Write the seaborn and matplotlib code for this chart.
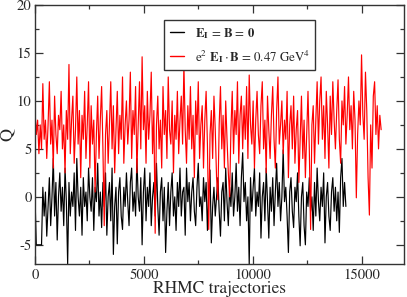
import numpy as np
import pandas as pd
import matplotlib
matplotlib.use("Agg")
import matplotlib.pyplot as plt
import seaborn as sns
from matplotlib.ticker import MultipleLocator

# trajectory spacing between recorded measurements
STEP = 60

red_q = [
    9.0, 6.5, 8.0, 4.5, 7.5, 5.0, 11.8, 6.0, 8.0, 4.0,
    7.5, 12.0, 5.5, 8.0, 3.0, 10.5, 6.5, 4.5, 8.5, 7.0,
    11.0, 5.0, 7.5, 2.5, 9.0, 6.0, 13.8, 4.5, 8.0, 10.5,
    3.5, 7.0, 12.5, 5.5, 9.0, 2.0, 8.5, 6.0, 11.0, 4.0,
    7.5, 12.0, 3.0, 9.5, 5.5, 8.0, 0.5, 6.5, 10.5, 4.0,
    8.0, 11.5, 5.0, -3.0, 6.5, 9.0, 3.5, 7.5, 12.0, 5.0,
    9.5, 2.5, 7.0, 11.0, 4.5, 8.5, 6.0, 12.5, 3.5, 7.5,
    10.0, 5.5, 8.0, 13.0, 4.0, 9.0, 6.5, 11.5, 2.5, 7.5,
    12.0, 5.0, 14.6, 7.0, 9.5, 3.5, 11.0, 6.0, 8.5, 13.0,
    4.5, 9.0, -3.8, 7.5, 10.5, 5.0, 8.0, 3.0, 11.5, 6.5,
    9.0, 4.0, 12.5, 7.0, 5.5, 10.0, 2.5, 8.5, 6.0, 11.0,
    4.5, 8.0, 10.5, 5.5, 13.8, 7.0, 3.5, 9.5, 6.0, 11.5,
    5.0, 8.5, 2.0, 10.0, 6.5, 12.0, 4.0, 7.5, 9.5, 3.0,
    8.0, 11.0, 5.5, -3.4, 6.5, 9.0, 4.0, 10.5, 7.0, 2.0,
    -0.3, 7.5, 11.5, 5.0, 8.5, 3.0, 10.0, 6.0, 2.5, 0.0,
    7.0, 11.0, 4.5, 9.0, 6.5, 12.0, 3.5, 8.5, 10.5, 5.0,
    9.5, 6.0, 11.5, 4.0, 12.7, 7.5, 5.5, 10.0, 3.0, 8.0,
    11.0, 6.5, 4.5, 9.5, 12.0, 5.0, 8.0, 2.5, 10.5, 7.0,
    4.0, 8.5, 11.5, 6.0, 3.0, 9.0, 12.5, 5.5, 7.5, 10.0,
    4.5, 8.0, 6.0, 11.0, 2.0, 7.5, 9.5, 5.0, 10.5, 3.5,
    7.0, 9.0, 1.5, 6.0, 10.5, 4.0, 8.0, 2.0, 6.5, 11.0,
    5.0, -3.4, 7.5, 9.5, 3.5, 8.0, 12.0, 5.5, 10.0, 12.5,
    6.0, 9.5, 4.0, 11.0, 7.5, 3.0, 10.5, 6.5, 12.0, 8.0,
    5.0, 9.0, 12.2, 6.0, 3.5, 10.0, 7.5, 11.5, 5.5, 8.5,
    12.5, 7.0, 9.5, 5.0, 11.0, 8.0, -0.1, 6.5, 10.0, 7.5,
    14.8, 8.5, 6.0, 13.0, 9.0, 2.0, -1.9, 7.5, 3.0, 10.5,
    12.0, 6.5, 9.5, 5.0, 8.5, 7.0,
]

black_q = [
    0.0, -5.0, -5.0, -5.0, -5.0, -5.0, 1.0, -2.0, 0.5, -4.1,
    -1.0, 2.0, -3.0, 0.0, 4.0, -2.0, 1.5, -4.5, 0.0, 2.5,
    -1.5, 1.0, -3.0, 3.0, -0.5, -7.0, 1.5, -2.0, 0.5, -1.0,
    2.5, -3.5, 4.0, 0.0, -2.0, 1.0, -4.0, 2.0, -1.0, 0.5,
    -2.5, 3.0, 0.0, -1.5, 2.0, -3.5, 1.0, -0.5, 3.5, -2.0,
    0.5, -3.2, 1.5, -1.0, 2.5, -4.0, 0.0, 1.5, -2.5, 3.0,
    -6.0, -1.0, 1.0, -4.9, 0.5, 2.0, -2.0, -3.4, 1.0, -1.0,
    2.5, -0.5, -3.0, 1.5, 3.0, -1.5, 0.5, -2.0, 4.0, 0.0,
    -1.5, 2.0, -5.0, 0.5, 3.0, -2.5, 1.0, -1.0, 2.5, -3.0,
    0.0, 1.5, -2.0, 3.5, -1.0, -4.0, 0.5, 2.0, -2.5, 1.0,
    -5.8, -1.5, 1.5, -3.0, 0.5, 2.5, -2.0, 0.0, -3.5, 1.5,
    -1.0, 3.0, -2.0, 0.5, 1.0, -4.0, 3.0, -0.5, 1.5, -2.5,
    0.5, 2.0, -1.5, -3.0, 1.0, 3.5, -1.0, 0.0, -2.5, 2.0,
    -0.5, 1.5, -3.5, 0.5, 2.8, -4.8, -1.0, 1.0, -2.0, 0.0,
    2.0, -1.5, -4.1, 0.5, 1.5, -2.5, 3.0, -0.5, -3.0, 1.0,
    -1.0, 2.5, -2.0, 0.0, 3.5, -1.5, 1.0, -3.0, 2.0, 4.6,
    -0.5, 1.5, -2.5, 0.0, -7.0, 2.0, -1.5, 1.0, 3.0, -2.0,
    0.5, -1.0, 2.5, -4.3, 0.0, 1.5, -2.5, 3.0, -0.5, -4.3,
    1.0, -1.5, 2.0, -3.0, 0.5, 3.5, -1.0, 1.5, -2.5, 0.0,
    4.9, -0.5, 1.0, -2.0, -5.8, 0.5, 2.0, -1.5, -3.2, 1.0,
    -0.5, 2.5, -2.0, -5.1, 0.0, 1.5, -3.0, -5.0, 0.5, -1.0,
    2.0, -1.5, 0.0, -3.5, 1.5, -2.0, 3.0, -0.5, -2.5, 1.0,
    -1.0, 2.5, -4.8, 0.0, 1.5, -2.0, -3.5, 0.5, 2.0, -1.5,
    1.0, -2.5, 0.5, -3.7, 2.0, 4.0, -1.0, 1.5, -1.0,
]

label_black = r"$\mathbf{E_I}$ = $\mathbf{B}$ = $\mathbf{0}$"
label_red = r"e$^2$ $\mathbf{E_I}\cdot\mathbf{B}$ = 0.47 GeV$^4$"
x_ticks = [0, 5000, 10000, 15000]
y_ticks = [-5, 0, 5, 10, 15, 20]

sns.set_style("ticks")
plt.rcParams["font.family"] = ["STIXGeneral", "DejaVu Serif"]
plt.rcParams["mathtext.fontset"] = "stix"

df_black = pd.DataFrame({"traj": np.arange(len(black_q)) * STEP, "Q": black_q})
df_red = pd.DataFrame({"traj": np.arange(len(red_q)) * STEP, "Q": red_q})

fig = plt.figure(figsize=(4.07, 2.97), dpi=100)
ax = fig.add_axes([35 / 407, 1 - 264 / 297, (404 - 35) / 407, (264 - 5) / 297])

sns.lineplot(data=df_black, x="traj", y="Q", color="black", linewidth=0.85,
             ax=ax, estimator=None, sort=False)
sns.lineplot(data=df_red, x="traj", y="Q", color="#ff0000", linewidth=0.85,
             ax=ax, estimator=None, sort=False)

ax.set_xlim(0, 16950)
ax.set_ylim(-7, 20)
ax.set_xticks(x_ticks)
ax.set_xticklabels([str(t) for t in x_ticks])
ax.set_yticks(y_ticks)
ax.set_yticklabels([str(t) for t in y_ticks])
ax.xaxis.set_minor_locator(MultipleLocator(2500))
ax.yaxis.set_minor_locator(MultipleLocator(2.5))
ax.tick_params(which="both", direction="in", top=True, right=True,
               color="#333333", labelsize=10.5)
ax.tick_params(axis="x", pad=3)
ax.tick_params(axis="y", pad=2.5)
ax.tick_params(which="major", length=6, width=0.9)
ax.tick_params(which="minor", length=3, width=0.9)
for s in ax.spines.values():
    s.set_linewidth(1.0)
    s.set_color("#333333")

ax.set_xlabel("RHMC trajectories", fontsize=12.5, labelpad=-0.5)
ax.set_ylabel("Q", fontsize=13, labelpad=1)

handles = [plt.Line2D([], [], color="black", linewidth=1.0),
           plt.Line2D([], [], color="#ff0000", linewidth=1.0)]
leg = ax.legend(handles, [label_black, label_red], loc="upper left",
                bbox_to_anchor=(0.35, 0.942), borderaxespad=0, fontsize=9.3,
                frameon=True, fancybox=False, handlelength=1.1,
                handletextpad=0.8, borderpad=0.45, labelspacing=0.55)
leg.get_frame().set_edgecolor("#333333")
leg.get_frame().set_linewidth(1.0)
leg.get_frame().set_alpha(1.0)

fig.savefig("out.png", dpi=100)
